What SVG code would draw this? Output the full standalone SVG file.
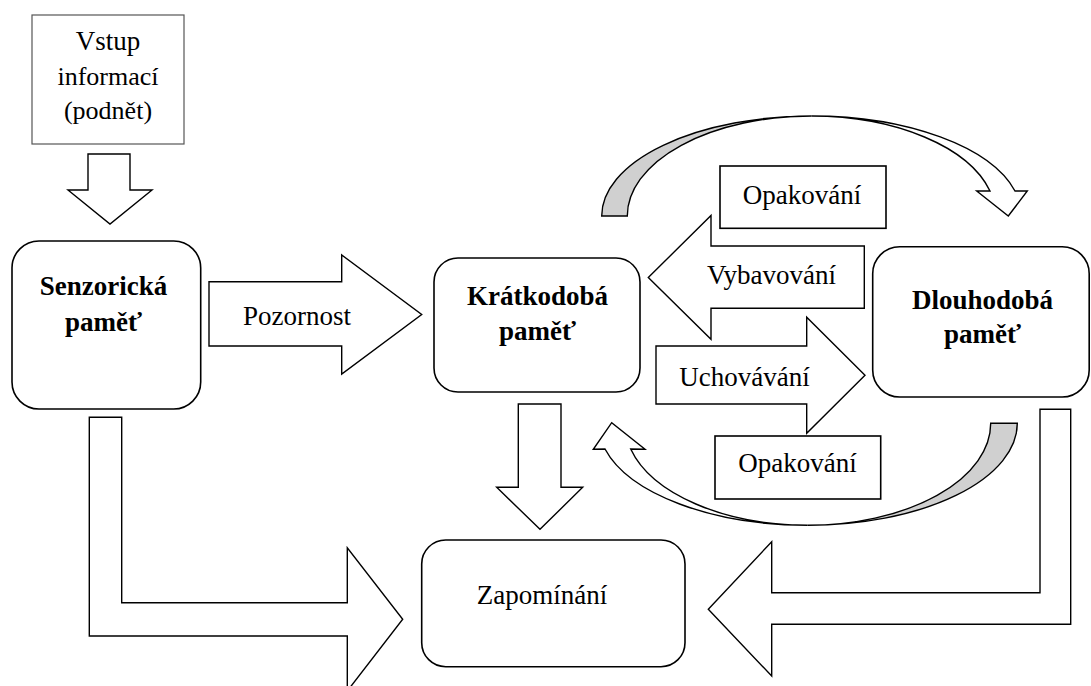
<svg xmlns="http://www.w3.org/2000/svg" width="1091" height="686" viewBox="0 0 1091 686">
<style>
.t{font-family:"Liberation Serif","Times New Roman",serif;font-size:27px;fill:#000}
.b{font-weight:bold}
.m{text-anchor:middle}
.box{fill:#fff;stroke:#000;stroke-width:1.6}
.lbl{fill:#fff;stroke:#000;stroke-width:1.6}
.in{fill:#fff;stroke:#555;stroke-width:1.2}
.arr{fill:#fff;stroke:#000;stroke-width:1.4;stroke-linejoin:miter}
.gr{fill:#d0d0d0;stroke:#000;stroke-width:1.4}
</style>
<rect width="1091" height="686" fill="#fff"/>
<g id="connectors">
<polygon class="arr" points="88,154 130,154 130,190 152,190 110,224 68,190 88,190"/>
<polygon class="arr" points="209,281.7 341.7,281.7 341.7,255 421.7,314.5 341.7,374 341.7,346 209,346"/>
<polygon class="arr" points="518.3,404 561,404 561,487.3 582.7,487.3 540,529.3 496.7,487.3 518.3,487.3"/>
<polygon class="arr" points="864.3,246 711,246 711,215.5 648.3,277.5 711,339.3 711,308.3 864.3,308.3"/>
<polygon class="arr" points="656,346 806.7,346 806.7,317.3 865,375.3 806.7,433.3 806.7,404 656,404"/>
<polygon class="arr" points="89.3,417.3 121.7,417.3 121.7,602.7 347.3,602.7 347.3,547.7 402.7,619.3 347.3,691 347.3,636 89.3,636"/>
<polygon class="arr" points="1070.7,409.3 1040,409.3 1040,592.7 771.7,592.7 771.7,541.7 708.3,609.3 771.7,676 771.7,624.3 1070.7,624.3"/>
<path class="gr" d="M601.7,216 A210 100 0 0 1 811.7,116 A184.4 100 0 0 0 627.3,216 Z"/>
<path class="arr" d="M811.7,116 A210 100 0 0 1 1015,191 L1027.3,191 L1008.3,216 L976.7,191 L990,191 A184.4 100 0 0 0 811.7,116 Z"/>
<path class="gr" d="M1017.3,423.3 A209.6 102 0 0 1 807.7,525.3 A183 102 0 0 0 990.7,423.3 Z"/>
<path class="arr" d="M807.7,525.3 A209.6 102 0 0 1 605,449 L593.3,449.3 L611.7,422.7 L645,449.3 L630.7,449 A183 102 0 0 0 807.7,525.3 Z"/>
</g>
<g id="vstup">
<rect class="in" x="32" y="15" width="152" height="129"/>
<text class="t m" x="108" y="50" font-size="26">Vstup</text>
<text class="t m" x="108" y="85" style="font-size:26px">informací</text>
<text class="t m" x="108" y="119" style="font-size:26px">(podnět)</text>
</g>
<g id="senzoricka">
<rect class="box" x="12" y="241" width="188.7" height="168" rx="27"/>
<text class="t b m" x="103.5" y="295">Senzorická</text>
<text class="t b m" x="103.5" y="331">paměť</text>
</g>
<g id="kratkodoba">
<rect class="box" x="434" y="258" width="206" height="134" rx="24"/>
<text class="t b m" x="537.5" y="305">Krátkodobá</text>
<text class="t b m" x="537.5" y="340">paměť</text>
</g>
<g id="dlouhodoba">
<rect class="box" x="872.7" y="246.7" width="216.5" height="150.3" rx="27"/>
<text class="t b m" x="982.5" y="309">Dlouhodobá</text>
<text class="t b m" x="982.5" y="343">paměť</text>
</g>
<g id="zapominani">
<rect class="box" x="421.7" y="540" width="263.3" height="126.7" rx="24"/>
<text class="t" x="476.7" y="604">Zapomínání</text>
</g>
<g id="opakovani-top">
<rect class="lbl" x="720" y="166" width="166" height="62.3"/>
<text class="t" x="742.7" y="204">Opakování</text>
</g>
<g id="opakovani-bottom">
<rect class="lbl" x="715" y="436" width="165.7" height="63"/>
<text class="t" x="738.3" y="471.7">Opakování</text>
</g>
<g id="labels">
<text class="t" x="243" y="325">Pozornost</text>
<text class="t" x="707" y="284">Vybavování</text>
<text class="t" x="679.3" y="386">Uchovávání</text>
</g>
</svg>
